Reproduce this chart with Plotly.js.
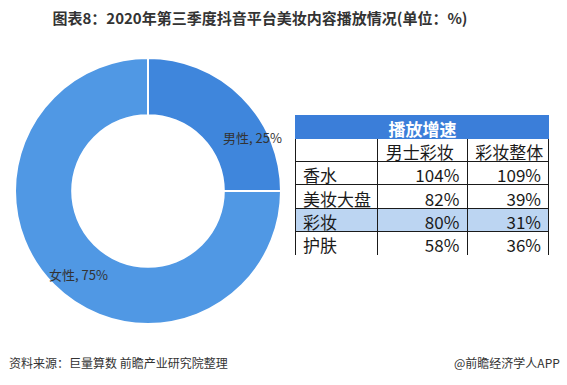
<!DOCTYPE html>
<html>
<head>
<meta charset="utf-8">
<script src="https://cdn.plot.ly/plotly-3.0.1.min.js"></script>
<style>html,body{margin:0;padding:0;background:#fff;}#chart{width:567px;height:385px;}</style>
</head>
<body>
<div id="chart"></div>
<script>
// Pie data
var genderLabels = ['男性', '女性'];
var genderShares = [25, 75];
var genderColors = ['#3F86DC', '#5098E4'];

// Table data
var tableTitle = '播放增速';
var seriesNames = ['男士彩妆', '彩妆整体'];
var rowLabels = ['香水', '美妆大盘', '彩妆', '护肤'];
var menMakeupGrowth = [104, 82, 80, 58];
var allMakeupGrowth = [109, 39, 31, 36];
var highlightRow = '彩妆';

var W = 567, H = 385;
var CJK = '"Noto Sans CJK SC", "Noto Sans", sans-serif';
var CELLFONT = '"Liberation Sans Narrow", "Noto Sans CJK SC", sans-serif';

var col0 = [''].concat(rowLabels);
var col1 = [seriesNames[0]].concat(menMakeupGrowth.map(function(v){return v + '%';}));
var col2 = [seriesNames[1]].concat(allMakeupGrowth.map(function(v){return v + '%';}));

var fillCol = col0.map(function(l){ return l === highlightRow ? '#BCD5F2' : '#FFFFFF'; });
var alignNum = col1.map(function(v, i){ return i === 0 ? 'left' : 'right'; });

var pie = {
  type: 'pie',
  labels: genderLabels,
  values: genderShares,
  sort: false,
  direction: 'clockwise',
  rotation: 0,
  hole: 0.57,
  marker: {colors: genderColors, line: {color: '#FFFFFF', width: 2}},
  textinfo: 'none',
  domain: {x: [15 / W, 281 / W], y: [61 / H, 327 / H]},
  showlegend: false,
  hoverinfo: 'none'
};

var table = {
  type: 'table',
  domain: {x: [295 / W, 550 / W], y: [1 - 300 / H, 1 - 115 / H]},
  columnwidth: [83, 90, 82],
  header: {
    values: ['', tableTitle, ''],
    align: 'center',
    height: 23,
    fill: {color: '#3B7ED9'},
    line: {color: '#3B7ED9', width: 1},
    font: {family: CJK, size: 17, color: '#FFFFFF', weight: 'bold'}
  },
  cells: {
    values: [col0, col1, col2],
    align: [col0.map(function(){return 'left';}), alignNum, alignNum],
    height: 23.4,
    fill: {color: [fillCol, fillCol, fillCol]},
    line: {color: '#1A1A1A', width: 1},
    font: {family: CELLFONT, size: 17, color: '#1A1A1A'}
  }
};

// slice labels placed as annotations
var labelPos = [[252, 137], [78, 274]];
var sliceLabels = genderLabels.map(function(l, i){
  return {text: l + ', ' + genderShares[i] + '%', xref: 'paper', yref: 'paper',
    x: labelPos[i][0] / W, y: 1 - labelPos[i][1] / H, xanchor: 'center', yanchor: 'middle',
    showarrow: false, font: {family: CJK, size: 13, color: '#333333'}};
});

var layout = {
  width: W, height: H,
  margin: {l: 0, r: 0, t: 0, b: 0},
  paper_bgcolor: '#FFFFFF',
  title: {
    text: '<b>图表8：2020年第三季度抖音平台美妆内容播放情况(单位：%)</b>',
    font: {family: CJK, size: 15, color: '#333333'},
    x: 260 / W, xanchor: 'center', y: 1 - 19 / H, yanchor: 'middle', yref: 'container'
  },
  annotations: sliceLabels.concat([
    {text: '资料来源：巨量算数 前瞻产业研究院整理', xref: 'paper', yref: 'paper',
     x: 7 / W, y: 1 - 362 / H, xanchor: 'left', yanchor: 'middle', showarrow: false,
     font: {family: CJK, size: 12, color: '#333333'}},
    {text: '@前瞻经济学人APP', xref: 'paper', yref: 'paper',
     x: 562 / W, y: 1 - 362 / H, xanchor: 'right', yanchor: 'middle', showarrow: false,
     font: {family: CJK, size: 12, color: '#333333'}}
  ])
};

Plotly.newPlot('chart', [pie, table], layout, {displayModeBar: false, staticPlot: true});
</script>
</body>
</html>
